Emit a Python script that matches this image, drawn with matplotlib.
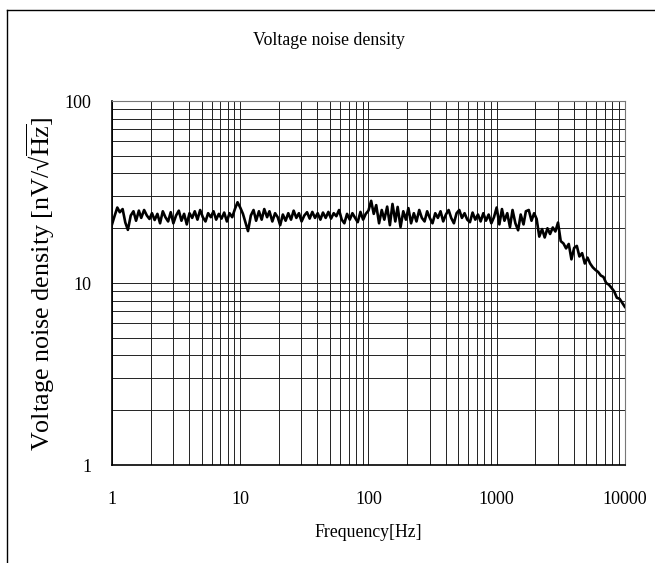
import numpy as np
import matplotlib
matplotlib.use('Agg')
import matplotlib.pyplot as plt
from matplotlib.lines import Line2D
from matplotlib.ticker import LogLocator, NullFormatter, FixedLocator

plt.rcParams['font.family'] = ['Liberation Serif', 'DejaVu Serif']
plt.rcParams['mathtext.fontset'] = 'stix'

# frequency grid (mantissa per decade) and measured noise values
mantissa = [1.00, 1.05, 1.10, 1.15, 1.21, 1.27, 1.33, 1.40, 1.47, 1.54, 1.62, 1.69,
            1.78, 1.87, 1.96, 2.05, 2.15, 2.26, 2.37, 2.49, 2.61, 2.74, 2.87, 3.01,
            3.16, 3.32, 3.48, 3.65, 3.83, 4.02, 4.22, 4.42, 4.64, 4.87, 5.11, 5.36,
            5.62, 5.90, 6.19, 6.49, 6.81, 7.15, 7.50, 7.87, 8.25, 8.66, 9.09, 9.53]
decades = [1, 10, 100, 1000]
freq = [m * d for d in decades for m in mantissa] + [10000]

noise_1_10 = [21.0, 23.5, 26.0, 24.5, 25.5, 21.5, 19.6, 23.5, 24.8, 22.0, 25.0, 22.8,
              25.2, 23.5, 22.5, 24.2, 22.2, 24.0, 21.3, 24.8, 23.0, 21.8, 24.5, 21.3,
              23.5, 25.0, 22.0, 24.0, 21.0, 24.2, 22.8, 24.8, 22.3, 25.2, 23.0, 21.8,
              24.2, 23.0, 24.8, 22.3, 24.0, 22.6, 24.4, 21.8, 24.2, 23.0, 25.5, 27.8]
noise_10_100 = [26.0, 24.0, 21.5, 19.3, 23.5, 25.2, 22.0, 24.8, 22.3, 25.5, 23.0, 24.8,
                21.8, 24.2, 23.0, 20.8, 23.8, 22.0, 24.2, 22.3, 25.0, 22.8, 24.2, 21.8,
                23.5, 24.5, 22.6, 24.6, 22.8, 24.2, 22.3, 24.4, 22.8, 24.6, 22.6, 24.2,
                23.3, 25.2, 22.3, 21.3, 24.0, 22.3, 24.2, 22.8, 21.6, 24.6, 22.3, 24.0]
noise_100_1k = [25.0, 28.3, 24.0, 26.8, 21.3, 25.2, 22.3, 26.3, 20.8, 27.2, 21.8, 26.2,
                20.3, 24.8, 22.3, 25.8, 21.3, 24.2, 21.8, 25.2, 22.8, 21.8, 24.8, 22.8,
                21.3, 24.2, 22.8, 24.8, 21.8, 23.8, 25.2, 22.8, 21.3, 24.2, 25.2, 22.8,
                24.2, 22.3, 21.6, 24.4, 22.3, 23.8, 21.8, 24.2, 22.0, 23.8, 21.3, 23.0]
noise_1k_10k = [26.0, 21.0, 25.5, 22.0, 24.2, 20.3, 25.2, 21.3, 19.5, 23.8, 21.0, 24.8,
                25.2, 22.0, 24.2, 22.5, 18.0, 19.8, 17.8, 20.0, 18.6, 20.2, 19.2, 21.5,
                17.0, 16.5, 15.5, 16.4, 13.5, 15.6, 16.0, 14.0, 14.6, 12.8, 13.8, 12.8,
                12.2, 11.8, 11.5, 11.0, 10.8, 10.0, 9.8, 9.4, 9.0, 8.3, 8.2, 7.8, 7.4]
noise = noise_1_10 + noise_10_100 + noise_100_1k + noise_1k_10k

x_ticks = [1, 10, 100, 1000, 10000]
y_ticks = [1, 10, 100]

fig = plt.figure(figsize=(6.55, 5.63), dpi=100)
ax = fig.add_axes([0.171, 0.174, 0.783, 0.6465])

ax.plot(freq, noise, color='black', lw=1.9, zorder=3)

ax.set_xscale('log')
ax.set_yscale('log')
ax.set_xlim(1, 10000)
ax.set_ylim(1, 100)

ax.xaxis.set_major_locator(FixedLocator(x_ticks))
ax.yaxis.set_major_locator(FixedLocator(y_ticks))
ax.set_xticklabels([str(t) for t in x_ticks])
ax.set_yticklabels([str(t) for t in y_ticks])
ax.xaxis.set_minor_locator(LogLocator(base=10, subs=np.arange(2, 10)))
ax.yaxis.set_minor_locator(LogLocator(base=10, subs=np.arange(2, 10)))
ax.xaxis.set_minor_formatter(NullFormatter())
ax.yaxis.set_minor_formatter(NullFormatter())

ax.grid(True, which='both', color='#222222', lw=0.7)
ax.tick_params(which='both', length=0, labelsize=13)
ax.tick_params(axis='x', pad=19)
ax.tick_params(axis='y', pad=15)

for s in ['left', 'bottom']:
    ax.spines[s].set_color('black')
    ax.spines[s].set_linewidth(1.2)
for s in ['top', 'right']:
    ax.spines[s].set_color('#777777')
    ax.spines[s].set_linewidth(0.8)

ax.set_xlabel('Frequency[Hz]', fontsize=12.8, labelpad=11)
fig.text(0.063, 0.496, r'Voltage noise density [nV/√$\overline{\mathrm{Hz}}$]',
         rotation=90, ha='center', va='center', fontsize=18.8)
fig.text(0.502, 0.928, 'Voltage noise density', ha='center', va='center', fontsize=12.8)

# outer frame
fig.add_artist(Line2D([0.011, 1.0], [0.982, 0.982], color='black', lw=1.0))
fig.add_artist(Line2D([0.011, 0.011], [0.0, 0.982], color='black', lw=1.0))

fig.savefig('out.png', dpi=100)
